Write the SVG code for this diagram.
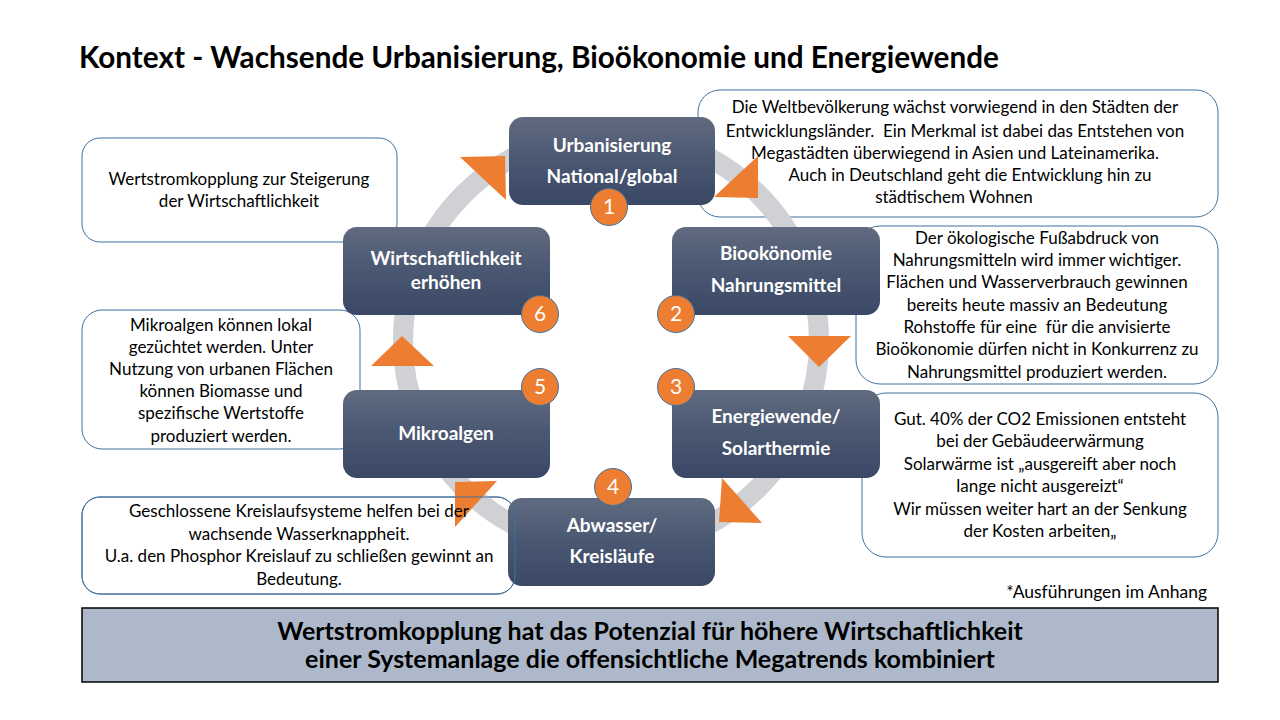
<svg xmlns="http://www.w3.org/2000/svg" width="1280" height="720" viewBox="0 0 1280 720">
<defs>
<linearGradient id="ng" x1="0" y1="0" x2="0" y2="1">
<stop offset="0" stop-color="#606b80"/>
<stop offset="0.5" stop-color="#4a5771"/>
<stop offset="1" stop-color="#3a4866"/>
</linearGradient>
<style>
.box{fill:#fff;stroke:#41719c;stroke-width:1}
.boxo{fill:none;stroke:#41719c;stroke-width:1}
.node{fill:url(#ng)}
.nt{font-family:Lato,"Liberation Sans",sans-serif;font-weight:bold;font-size:19px;fill:#fff;text-anchor:middle}
.num{fill:#ed7d31;stroke:#41719c;stroke-width:1}
.numt{font-family:Lato,"Liberation Sans",sans-serif;font-size:21px;fill:#fff;text-anchor:middle}
.bt{font-family:Lato,"Liberation Sans",sans-serif;font-size:17px;fill:#000;text-anchor:middle}
.arr{fill:#ed7d31}
</style>
</defs>
<rect width="1280" height="720" fill="#fff"/>
<text x="79" y="68" font-family="Lato,'Liberation Sans',sans-serif" font-weight="bold" font-size="29.7" fill="#000">Kontext - Wachsende Urbanisierung, Bioökonomie und Energiewende</text>

<g id="boxes">
<rect id="box-urban" class="box" x="698" y="90" width="520" height="127" rx="22"/>
<rect id="box-bio" class="box" x="856" y="226" width="362" height="158" rx="24"/>
<rect id="box-energie" class="box" x="862" y="393" width="356" height="164" rx="24"/>
<rect id="box-wert" class="box" x="82" y="138" width="315" height="104" rx="18"/>
<rect id="box-mikro" class="box" x="82" y="310" width="278" height="139" rx="20"/>
<rect id="box-abw" class="box" x="82" y="497" width="433" height="97" rx="18"/>
</g>

<g id="connectors">
<circle cx="611" cy="341" r="208" fill="none" stroke="#d0d1d5" stroke-width="20"/>
<polygon class="arr" points="460,157 505,156 506,200"/>
<polygon class="arr" points="714,197 758,156 758,198"/>
<polygon class="arr" points="788,336 851,336 819,367"/>
<polygon class="arr" points="722,478 762,523 719,522"/>
<polygon class="arr" points="455,482 497,481 455,527"/>
<polygon class="arr" points="371,366 434,366 402,336"/>
</g>

<g id="node-urban">
<rect class="node" x="509" y="117" width="206" height="88" rx="14"/>
<text class="nt" x="612" y="152">Urbanisierung</text>
<text class="nt" x="612" y="183">National/global</text>
<circle class="num" cx="609" cy="207" r="18.5"/>
<text class="numt" x="609" y="214">1</text>
</g>

<g id="node-bio">
<rect class="node" x="672" y="227" width="208" height="88" rx="14"/>
<text class="nt" x="776" y="260">Biookönomie</text>
<text class="nt" x="776" y="292">Nahrungsmittel</text>
<circle class="num" cx="676" cy="314" r="18.5"/>
<text class="numt" x="676" y="321">2</text>
</g>

<g id="node-energie">
<rect class="node" x="672" y="390" width="208" height="88" rx="14"/>
<text class="nt" x="776" y="423">Energiewende/</text>
<text class="nt" x="776" y="455">Solarthermie</text>
<circle class="num" cx="676" cy="387" r="18.5"/>
<text class="numt" x="676" y="394">3</text>
</g>

<g id="node-abwasser">
<rect class="node" x="508" y="498" width="207" height="88" rx="14"/>
<text class="nt" x="612" y="532">Abwasser/</text>
<text class="nt" x="612" y="563">Kreisläufe</text>
<circle class="num" cx="613" cy="487" r="18.5"/>
<text class="numt" x="613" y="494">4</text>
</g>

<g id="node-mikro">
<rect class="node" x="343" y="390" width="207" height="88" rx="14"/>
<text class="nt" x="446" y="440">Mikroalgen</text>
<circle class="num" cx="540" cy="387" r="18.5"/>
<text class="numt" x="540" y="394">5</text>
</g>

<g id="node-wirt">
<rect class="node" x="343" y="227" width="207" height="88" rx="14"/>
<text class="nt" x="446" y="265">Wirtschaftlichkeit</text>
<text class="nt" x="446" y="289">erhöhen</text>
<circle class="num" cx="540" cy="314" r="18.5"/>
<text class="numt" x="540" y="321">6</text>
</g>

<g id="box-texts">
<rect class="boxo" x="82" y="497" width="433" height="97" rx="18"/>
<text class="bt" x="955" y="113">Die Weltbevölkerung wächst vorwiegend in den Städten der</text>
<text class="bt" x="955" y="137">Entwicklungsländer.&#160; Ein Merkmal ist dabei das Entstehen von</text>
<text class="bt" x="955" y="159">Megastädten überwiegend in Asien und Lateinamerika.</text>
<text class="bt" x="970" y="181">Auch in Deutschland geht die Entwicklung hin zu</text>
<text class="bt" x="954" y="203">städtischem Wohnen</text>

<text class="bt" x="1037" y="244">Der ökologische Fußabdruck von</text>
<text class="bt" x="1037" y="266">Nahrungsmitteln wird immer wichtiger.</text>
<text class="bt" x="1037" y="288">Flächen und Wasserverbrauch gewinnen</text>
<text class="bt" x="1037" y="311">bereits heute massiv an Bedeutung</text>
<text class="bt" x="1037" y="333">Rohstoffe für eine&#160; für die anvisierte</text>
<text class="bt" x="1037" y="355">Bioökonomie dürfen nicht in Konkurrenz zu</text>
<text class="bt" x="1037" y="378">Nahrungsmittel produziert werden.</text>

<text class="bt" x="1040" y="425">Gut. 40% der CO2 Emissionen entsteht</text>
<text class="bt" x="1040" y="447">bei der Gebäudeerwärmung</text>
<text class="bt" x="1040" y="470">Solarwärme ist „ausgereift aber noch</text>
<text class="bt" x="1040" y="492">lange nicht ausgereizt“</text>
<text class="bt" x="1040" y="515">Wir müssen weiter hart an der Senkung</text>
<text class="bt" x="1040" y="537">der Kosten arbeiten„</text>

<text class="bt" x="239" y="185">Wertstromkopplung zur Steigerung</text>
<text class="bt" x="239" y="207">der Wirtschaftlichkeit</text>

<text class="bt" x="221" y="331">Mikroalgen können lokal</text>
<text class="bt" x="221" y="353">gezüchtet werden. Unter</text>
<text class="bt" x="221" y="375">Nutzung von urbanen Flächen</text>
<text class="bt" x="221" y="397">können Biomasse und</text>
<text class="bt" x="221" y="419">spezifische Wertstoffe</text>
<text class="bt" x="221" y="442">produziert werden.</text>

<text class="bt" x="299" y="517">Geschlossene Kreislaufsysteme helfen bei der</text>
<text class="bt" x="299" y="540">wachsende Wasserknappheit.</text>
<text class="bt" x="299" y="562">U.a. den Phosphor Kreislauf zu schließen gewinnt an</text>
<text class="bt" x="299" y="585">Bedeutung.</text>
</g>

<text x="1207" y="598" font-family="Lato,'Liberation Sans',sans-serif" font-size="17.5" text-anchor="end" fill="#000">*Ausführungen im Anhang</text>

<g id="summary">
<rect x="82" y="608" width="1136" height="74" fill="#adb9ca" stroke="#000" stroke-width="1.5"/>
<text x="650" y="640" font-family="Lato,'Liberation Sans',sans-serif" font-weight="bold" font-size="25" text-anchor="middle" fill="#000">Wertstromkopplung hat das Potenzial für höhere Wirtschaftlichkeit</text>
<text x="650" y="668" font-family="Lato,'Liberation Sans',sans-serif" font-weight="bold" font-size="25" text-anchor="middle" fill="#000">einer Systemanlage die offensichtliche Megatrends kombiniert</text>
</g>
</svg>
